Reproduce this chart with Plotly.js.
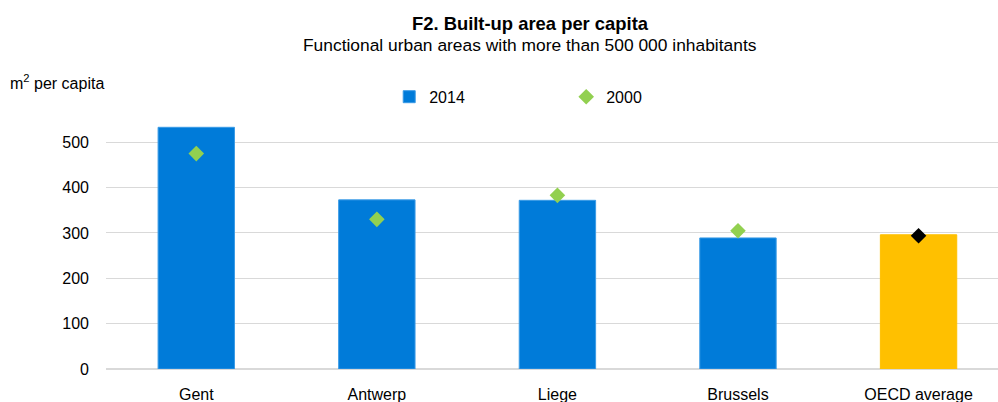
<!DOCTYPE html>
<html>
<head>
<meta charset="utf-8">
<script src="https://cdn.plot.ly/plotly-3.0.1.min.js"></script>
<style>html,body{margin:0;padding:0;background:#fff;}#chart{width:998px;height:402px;}</style>
</head>
<body>
<div id="chart"></div>
<script>
const categories = ["Gent", "Antwerp", "Liege", "Brussels", "OECD average"];
const values2014 = [533, 373, 372, 289, 296];
const values2000 = [475, 330, 383, 305, 294];
const yTicks = [0, 100, 200, 300, 400, 500];
const seriesNames = ["2014", "2000"];

const FONT = "Liberation Sans, Arial, sans-serif";
const barColors = categories.map(c => c === "OECD average" ? "#FFC000" : "#007BD9");
const barLines = categories.map(c => c === "OECD average" ? "#FFC000" : "#3A9BE6");
const dotColors = categories.map(c => c === "OECD average" ? "#000000" : "#92D050");

const traces = [
  {
    type: "bar",
    name: seriesNames[0],
    x: categories,
    y: values2014,
    width: 0.423,
    marker: { color: barColors, line: { color: barLines, width: 1 } },
    hoverinfo: "skip"
  },
  {
    type: "scatter",
    mode: "markers",
    name: seriesNames[1],
    x: categories,
    y: values2000,
    marker: { symbol: "diamond", size: 12, color: dotColors },
    hoverinfo: "skip"
  }
];

const layout = {
  width: 998,
  height: 402,
  margin: { l: 106, r: 0, t: 106, b: 33 },
  paper_bgcolor: "#ffffff",
  plot_bgcolor: "#ffffff",
  font: { family: FONT, size: 16, color: "#000000" },
  title: {
    text: "<b>F2. Built-up area per capita</b>",
    font: { family: FONT, size: 18.4, color: "#000000" },
    x: 530 / 998, xref: "container", xanchor: "center",
    y: 1 - 23.5 / 402, yref: "container", yanchor: "middle"
  },
  showlegend: true,
  legend: {
    orientation: "h",
    x: 0.3175, xanchor: "left",
    y: 1.035, yanchor: "middle",
    entrywidth: 132, entrywidthmode: "pixels",
    font: { family: FONT, size: 16, color: "#000000" },
    bgcolor: "rgba(0,0,0,0)"
  },
  xaxis: {
    type: "category",
    range: [-0.5, 4.44],
    showgrid: false,
    zeroline: false,
    showline: false,
    ticks: "outside",
    ticklen: 11,
    tickcolor: "rgba(0,0,0,0)",
    tickfont: { family: FONT, size: 16, color: "#000000" },
    fixedrange: true
  },
  yaxis: {
    range: [0, 580],
    tickmode: "array",
    tickvals: yTicks,
    ticktext: yTicks.map(String),
    showgrid: true,
    gridcolor: "#D9D9D9",
    gridwidth: 1,
    zeroline: true,
    zerolinecolor: "#D9D9D9",
    zerolinewidth: 2,
    showline: false,
    ticks: "",
    ticklabelstandoff: 16,
    tickfont: { family: FONT, size: 16, color: "#000000" },
    fixedrange: true
  },
  annotations: [
    {
      text: "Functional urban areas with more than 500 000 inhabitants",
      xref: "paper", yref: "paper",
      x: (530 - 106) / 892, xanchor: "center",
      y: (369 - 45) / 263, yanchor: "middle",
      showarrow: false,
      font: { family: FONT, size: 17.4, color: "#000000" }
    },
    {
      text: "m<sup>2</sup> per capita",
      xref: "paper", yref: "paper",
      x: (8 - 106) / 892, xanchor: "left",
      y: (369 - 82) / 263, yanchor: "middle",
      showarrow: false,
      font: { family: FONT, size: 16, color: "#000000" }
    }
  ],
  bargap: 0.577,
  hovermode: false
};

Plotly.newPlot("chart", traces, layout, { displayModeBar: false, staticPlot: true });
</script>
</body>
</html>
